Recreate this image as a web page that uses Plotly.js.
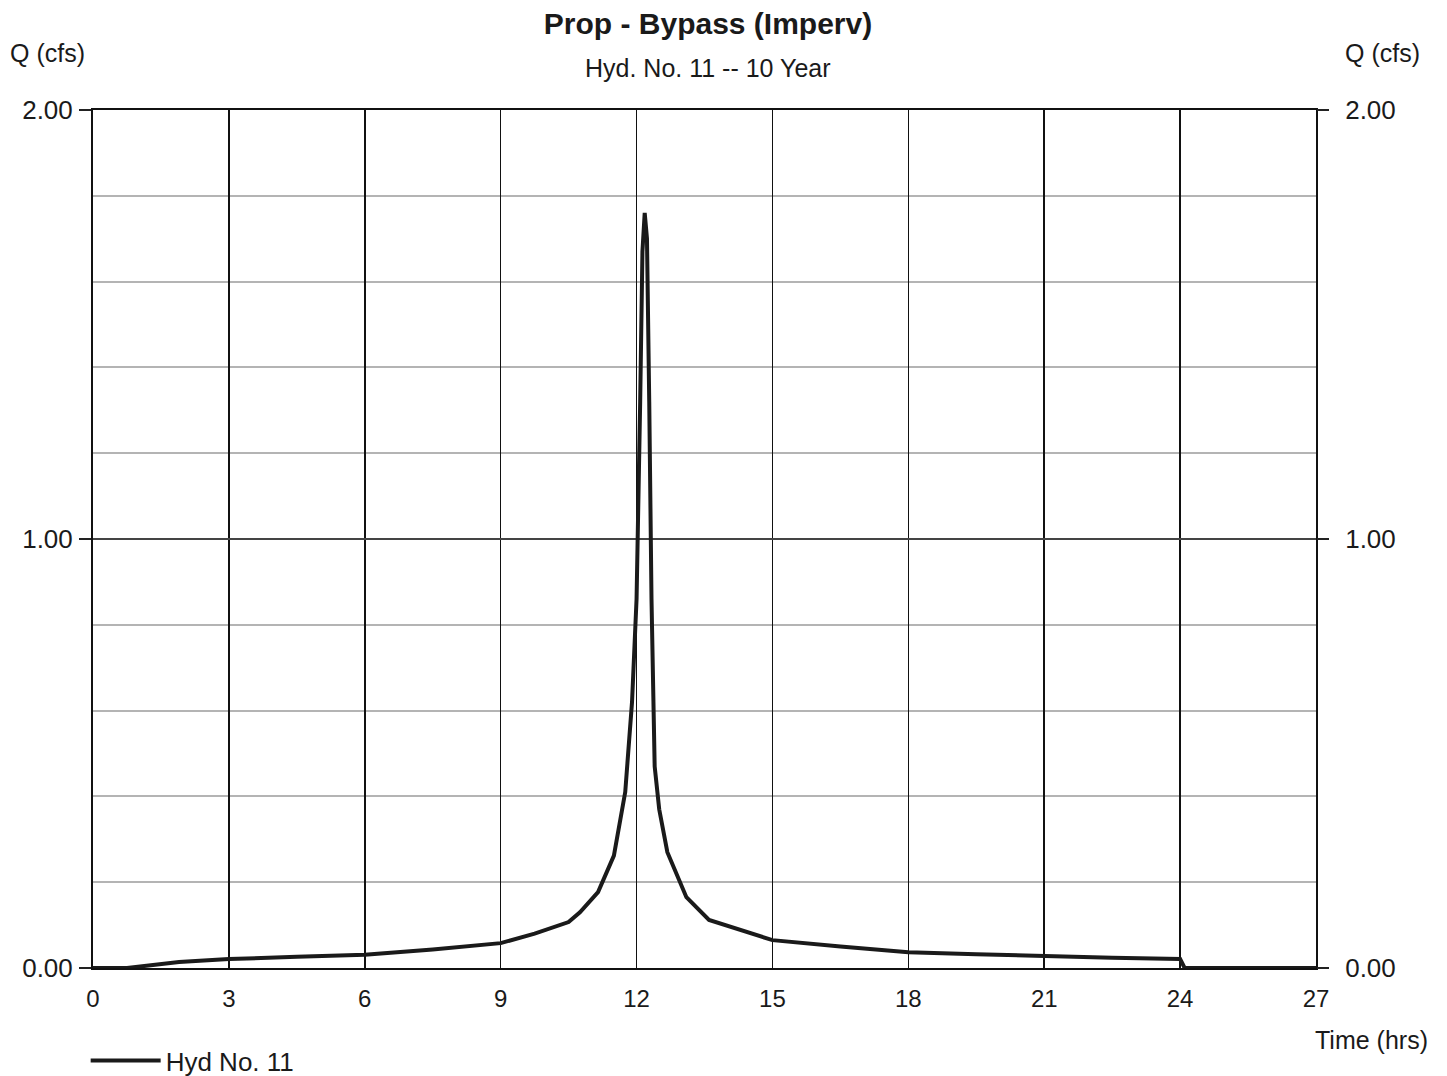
<!DOCTYPE html>
<html>
<head>
<meta charset="utf-8">
<script src="https://cdn.plot.ly/plotly-3.0.1.min.js"></script>
<style>html,body{margin:0;padding:0;background:#fff;}#chart{width:1447px;height:1076px;}</style>
</head>
<body>
<div id="chart"></div>
<script>
const timeHrs = [0, 0.75, 1.9, 3, 4.5, 6, 7.5, 9, 9.75, 10.5, 10.75, 11.15, 11.5, 11.75, 11.9, 12.0, 12.08, 12.13, 12.18, 12.23, 12.28, 12.33, 12.4, 12.5, 12.68, 13.1, 13.6, 14.3, 15, 16.5, 18, 19.5, 21, 22.5, 24, 24.1, 27];
const flowCfs = [0, 0, 0.014, 0.021, 0.026, 0.031, 0.043, 0.058, 0.08, 0.107, 0.13, 0.177, 0.262, 0.41, 0.62, 0.86, 1.32, 1.67, 1.76, 1.70, 1.32, 0.86, 0.47, 0.37, 0.27, 0.165, 0.112, 0.088, 0.065, 0.05, 0.037, 0.032, 0.027, 0.024, 0.021, 0, 0];
const seriesName = "Hyd No. 11";
const chartTitle = "Prop - Bypass (Imperv)";
const chartSubtitle = "Hyd. No. 11 -- 10 Year";
const yLabel = "Q (cfs)";
const xLabel = "Time (hrs)";

const FONT = "Liberation Sans, Arial, sans-serif";
const INK = "#1a1a1a";

const traces = [
  {x: timeHrs, y: flowCfs, type: "scatter", mode: "lines", name: seriesName,
   line: {color: INK, width: 4}, xaxis: "x", yaxis: "y"},
  {x: timeHrs, y: flowCfs, type: "scatter", mode: "lines", showlegend: false,
   hoverinfo: "skip", line: {color: "rgba(0,0,0,0)", width: 0}, xaxis: "x", yaxis: "y2"}
];

const yCommon = {
  range: [0, 2], tickmode: "linear", tick0: 0, dtick: 1, tickformat: ".2f",
  ticks: "outside", ticklen: 12, tickwidth: 2, tickcolor: "#222",
  tickfont: {family: FONT, size: 26, color: INK},
  zeroline: false, fixedrange: true
};

const layout = {
  width: 1447, height: 1076,
  margin: {l: 93, r: 131, t: 110, b: 108, autoexpand: false},
  paper_bgcolor: "#fff", plot_bgcolor: "#fff",
  font: {family: FONT, color: INK},
  title: {text: "<b>" + chartTitle + "</b>", font: {family: FONT, size: 30, color: INK},
          x: 708/1447, xref: "container", xanchor: "center", y: 1 - 23/1076, yref: "container", yanchor: "middle"},
  xaxis: {
    range: [0, 27], tickmode: "linear", tick0: 0, dtick: 3,
    showgrid: true, gridcolor: "#111", gridwidth: 1.5,
    showline: true, linecolor: "#111", linewidth: 2, mirror: true,
    ticks: "", ticklabelstandoff: 8,
    tickfont: {family: FONT, size: 24, color: INK},
    zeroline: false, fixedrange: true
  },
  yaxis: Object.assign({}, yCommon, {
    side: "left", showgrid: true, gridcolor: "#444", gridwidth: 2,
    showline: true, linecolor: "#111", linewidth: 2, mirror: true,
    ticklabelstandoff: 1,
    minor: {dtick: 0.2, tick0: 0, showgrid: true, gridcolor: "#b4b4b4", gridwidth: 2, ticks: ""}
  }),
  yaxis2: Object.assign({}, yCommon, {
    side: "right", overlaying: "y", showgrid: false, showline: false,
    ticklabelstandoff: 11
  }),
  showlegend: true,
  legend: {x: -0.006, y: -0.108, xanchor: "left", yanchor: "middle", orientation: "h",
           font: {family: FONT, size: 26, color: INK}, bgcolor: "rgba(0,0,0,0)", itemwidth: 70},
  annotations: [
    {text: chartSubtitle, xref: "paper", yref: "paper", x: (708-93)/1223, y: 1 + (110-68)/858,
     xanchor: "center", yanchor: "middle", showarrow: false, font: {family: FONT, size: 25, color: INK}},
    {text: yLabel, xref: "paper", yref: "paper", x: (8-93)/1223, y: 1 + (110-53)/858,
     xanchor: "left", yanchor: "middle", showarrow: false, font: {family: FONT, size: 25, color: INK}},
    {text: yLabel, xref: "paper", yref: "paper", x: (1422-93)/1223, y: 1 + (110-53)/858,
     xanchor: "right", yanchor: "middle", showarrow: false, font: {family: FONT, size: 25, color: INK}},
    {text: xLabel, xref: "paper", yref: "paper", x: (1430-93)/1223, y: -(1040-968)/858,
     xanchor: "right", yanchor: "middle", showarrow: false, font: {family: FONT, size: 25, color: INK}}
  ]
};

Plotly.newPlot("chart", traces, layout, {staticPlot: true, displayModeBar: false});
</script>
</body>
</html>
